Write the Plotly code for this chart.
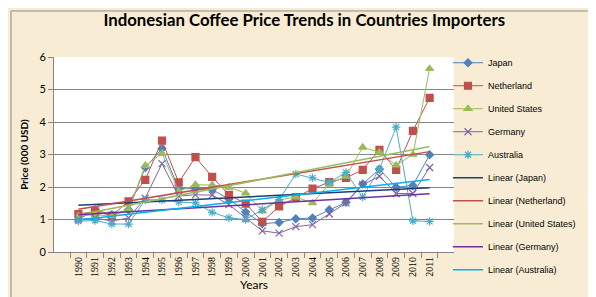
import numpy as np
import plotly.graph_objects as go

years = [str(y) for y in range(1990, 2012)]

japan = [1.00, 1.30, 1.15, 1.30, 2.60, 3.18, 1.95, 1.95, 1.92, 1.63, 1.23, 0.87, 0.91, 1.02, 1.05, 1.30, 1.53, 2.09, 2.55, 1.99, 2.05, 2.99]
netherland = [1.17, 1.25, 1.12, 1.56, 2.22, 3.43, 2.14, 2.92, 2.31, 1.76, 1.49, 0.93, 1.40, 1.68, 1.95, 2.15, 2.28, 2.53, 3.14, 2.53, 3.73, 4.74]
united_states = [1.10, 1.15, 1.10, 1.30, 2.66, 3.03, 1.87, 2.07, 2.06, 1.99, 1.81, 1.26, 1.60, 1.69, 1.51, 2.09, 2.33, 3.22, 3.07, 2.67, 3.00, 5.64]
germany = [1.00, 1.05, 0.95, 1.05, 1.66, 2.72, 1.72, 1.76, 1.75, 1.46, 1.05, 0.65, 0.58, 0.78, 0.84, 1.17, 1.51, 2.07, 2.33, 1.80, 1.80, 2.60]
australia = [0.95, 0.97, 0.86, 0.86, 1.61, 1.60, 1.54, 1.51, 1.22, 1.05, 1.00, 1.30, 1.61, 2.40, 2.28, 2.14, 2.45, 1.69, 2.56, 3.84, 0.96, 0.94]

series = [
    ("Japan", japan, "#4F81BD", "diamond", 6),
    ("Netherland", netherland, "#C0504D", "square", 7),
    ("United States", united_states, "#9BBB59", "triangle-up", 7),
    ("Germany", germany, "#8064A2", "x-thin-open", 7),
    ("Australia", australia, "#4BACC6", "asterisk-open", 7),
]
trend_colors = ["#1F3D7A", "#C0504D", "#9BBB59", "#7030A0", "#00B0F0"]

fig = go.Figure()
for i, (name, vals, col, sym, sz) in enumerate(series):
    fig.add_trace(go.Scatter(
        x=years, y=vals, name=name, mode="lines+markers",
        line=dict(color=col, width=1),
        marker=dict(symbol=sym, size=sz, color=col, line=dict(color=col, width=1.2)),
        legendgroup=name,
    ))

idx = np.arange(len(years))
for (name, vals, col, sym, sz), tcol in zip(series, trend_colors):
    m, b = np.polyfit(idx, np.array(vals), 1)
    fig.add_trace(go.Scatter(
        x=years, y=m * idx + b, name=f"Linear ({name})", mode="lines",
        line=dict(color=tcol, width=1.5), legendgroup="lin" + name,
    ))

fig.update_layout(
    width=596, height=297,
    margin=dict(l=46, r=150, t=49, b=53),
    paper_bgcolor="#F8EDD4",
    plot_bgcolor="#FFFFFF",
    title=dict(text="<b>Indonesian Coffee Price Trends in Countries Importers</b>",
               x=0.497, xanchor="center", y=0.96, yanchor="middle",
               font=dict(family="Lato", size=16.8, color="#000000")),
    showlegend=True,
    legend=dict(x=0.985, y=1.045, xanchor="left", yanchor="top",
                font=dict(family="Liberation Sans", size=9, color="#000000"),
                bgcolor="rgba(0,0,0,0)", tracegroupgap=4, itemwidth=30,
                maxheight=297),
    font=dict(family="Lato", color="#000000"),
)
fig.update_xaxes(
    type="category", tickangle=-90, tickson="boundaries", ticks="outside", ticklen=5,
    tickcolor="#868686", showline=True, linecolor="#868686", linewidth=1,
    showgrid=False,
    tickfont=dict(family="Liberation Serif", size=10, color="#000000"),
    title=dict(text="Years", font=dict(family="Lato", size=12), standoff=2),
)
fig.update_yaxes(
    range=[0, 6], dtick=1, ticks="outside", ticklen=5, tickcolor="#868686",
    showline=True, linecolor="#868686", linewidth=1,
    showgrid=True, gridcolor="#868686", gridwidth=1, zeroline=False,
    tickfont=dict(family="Lato", size=11, color="#000000"),
    title=dict(text="<b>Price (000 USD)</b>", font=dict(family="Lato", size=10), standoff=8),
)
fig.add_shape(type="rect", xref="paper", yref="paper",
              x0=-0.1075, x1=1.35, y0=-0.245, y1=1.236,
              line=dict(color="#8C8C8C", width=1), fillcolor="rgba(0,0,0,0)", layer="below")

fig.write_html("out.html")
